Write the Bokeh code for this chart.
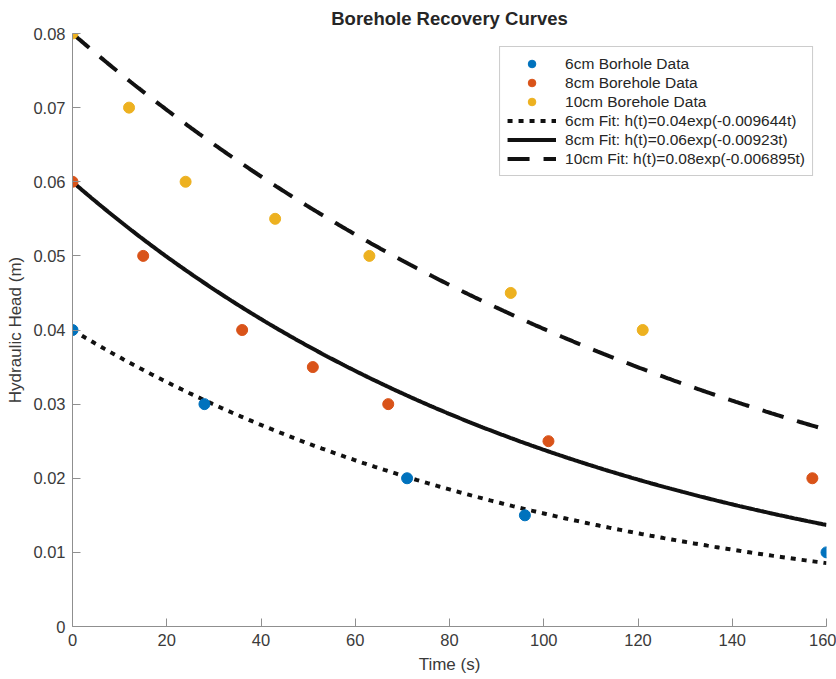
import numpy as np
from bokeh.plotting import figure
from bokeh.models import FixedTicker, CustomJSTickFormatter, Legend, LegendItem, Range1d
from bokeh.embed import file_html
from bokeh.resources import INLINE

# Data points
t6 = [0, 28, 71, 96, 160]
h6 = [0.04, 0.03, 0.02, 0.015, 0.01]
t8 = [0, 15, 36, 51, 67, 101, 157]
h8 = [0.06, 0.05, 0.04, 0.035, 0.03, 0.025, 0.02]
t10 = [0, 12, 24, 43, 63, 93, 121]
h10 = [0.08, 0.07, 0.06, 0.055, 0.05, 0.045, 0.04]

# Fit parameters (from legend): h(t) = a * exp(-k t)
fit_a = [0.04, 0.06, 0.08]
fit_k = [0.009644, 0.00923, 0.006895]
fit_labels = ["6cm Fit: h(t)=0.04exp(-0.009644t)",
              "8cm Fit: h(t)=0.06exp(-0.00923t)",
              "10cm Fit: h(t)=0.08exp(-0.006895t)"]
data_labels = ["6cm Borhole Data", "8cm Borehole Data", "10cm Borehole Data"]

x_ticks = [0, 20, 40, 60, 80, 100, 120, 140, 160]
y_ticks = [0, 0.01, 0.02, 0.03, 0.04, 0.05, 0.06, 0.07, 0.08]

FONT = "Liberation Sans"
colors = ["#0072BD", "#D95319", "#EDB120"]

p = figure(width=836, height=679, output_backend="svg", toolbar_location=None,
           x_range=Range1d(0, 160), y_range=Range1d(0, 0.08),
           min_border_left=72, min_border_right=10, min_border_top=33, min_border_bottom=53,
           title="Borehole Recovery Curves")
p.title.text_font = FONT
p.title.text_font_size = "18.5px"
p.title.text_font_style = "bold"
p.title.align = "center"
p.title.text_color = "#262626"
p.title.offset = 0
p.outline_line_color = None
p.grid.visible = False

for ax in (p.xaxis[0], p.yaxis[0]):
    ax.axis_line_color = "#8f8f8f"
    ax.major_tick_line_color = "#8f8f8f"
    ax.major_tick_in = 8
    ax.major_tick_out = 0
    ax.minor_tick_line_color = None
    ax.major_label_text_font = FONT
    ax.major_label_text_font_size = "16.5px"
    ax.major_label_text_color = "#3a3a3a"
    ax.axis_label_text_font = FONT
    ax.axis_label_text_font_size = "17px"
    ax.axis_label_text_font_style = "normal"
    ax.axis_label_text_color = "#3a3a3a"

p.xaxis.ticker = FixedTicker(ticks=x_ticks)
p.yaxis.ticker = FixedTicker(ticks=y_ticks)
p.yaxis.formatter = CustomJSTickFormatter(code="return tick === 0 ? '0' : tick.toFixed(2);")
p.xaxis.axis_label = "Time (s)"
p.yaxis.axis_label = "Hydraulic Head (m)"
p.xaxis.major_label_standoff = 7
p.yaxis.major_label_standoff = 7
p.xaxis.axis_label_standoff = 6
p.yaxis.axis_label_standoff = 5

tt = np.linspace(0, 160, 400)
dashes = ["5 6", "solid", "22 14"]
fit_renderers = []
for a, k, d in zip(fit_a, fit_k, dashes):
    r = p.line(tt, a * np.exp(-k * tt), line_color="#111111", line_width=4, line_dash=d)
    fit_renderers.append(r)

data_renderers = []
for tx, hx, c in zip([t6, t8, t10], [h6, h8, h10], colors):
    r = p.scatter(tx, hx, size=11, fill_color=c, line_color=c)
    data_renderers.append(r)

items = [LegendItem(label=l, renderers=[r]) for l, r in zip(data_labels, data_renderers)]
items += [LegendItem(label=l, renderers=[r]) for l, r in zip(fit_labels, fit_renderers)]
legend = Legend(items=items, location="top_right")
legend.label_text_font = FONT
legend.label_text_font_size = "15.5px"
legend.label_text_color = "#262626"
legend.glyph_width = 49
legend.glyph_height = 19
legend.label_height = 19
legend.spacing = 0
legend.padding = 7
legend.margin = 13
legend.border_line_color = "#999999"
legend.border_line_width = 1.5
legend.label_standoff = 9
p.add_layout(legend)

open("out.html", "w").write(file_html(p, INLINE))
